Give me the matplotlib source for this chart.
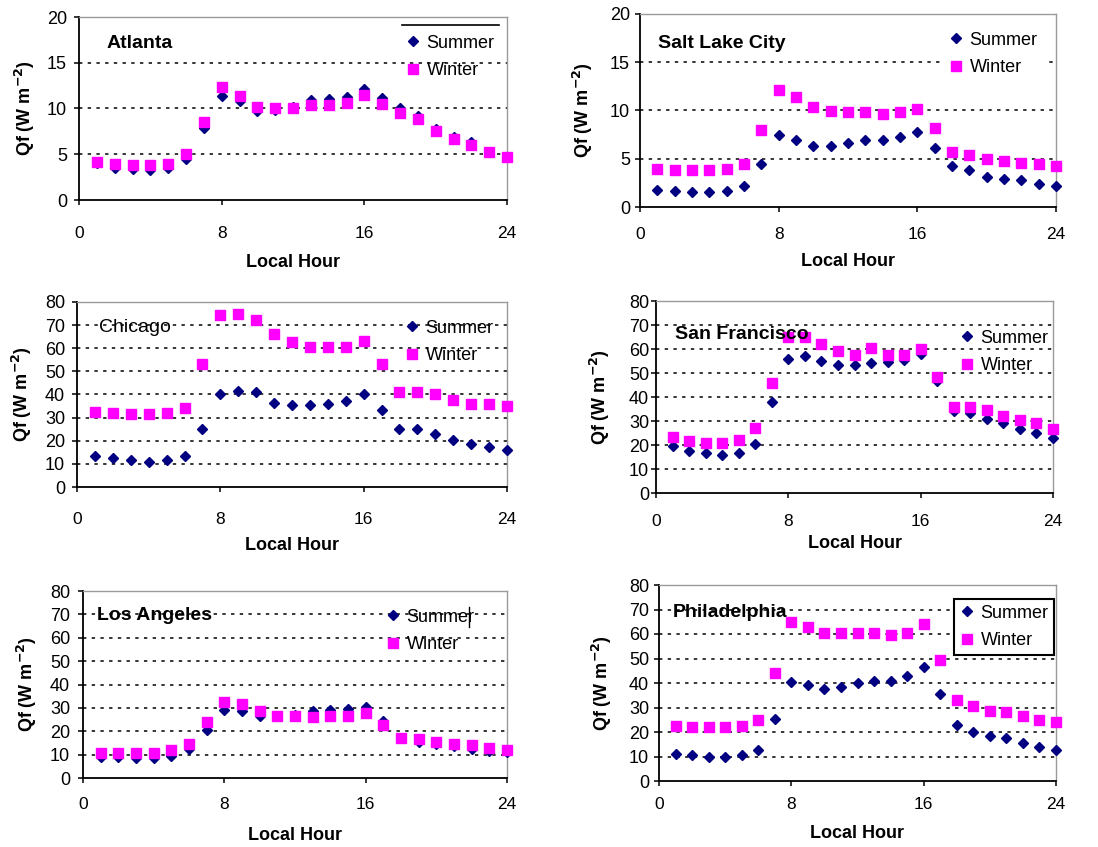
import matplotlib
matplotlib.use('Agg')
import matplotlib.pyplot as plt
from matplotlib.lines import Line2D

plt.rcParams['font.family'] = ['Liberation Sans', 'DejaVu Sans']

W, H = 1098, 847

hours = list(range(1, 25))

atlanta_summer = [4.0, 3.5, 3.4, 3.3, 3.5, 4.5, 7.9, 11.4, 10.8, 9.7, 9.8, 10.2,
                  10.9, 11.0, 11.3, 12.1, 11.2, 10.1, 9.2, 7.8, 6.9, 6.3, 5.3, 4.7]
atlanta_winter = [4.2, 3.9, 3.8, 3.8, 3.9, 5.0, 8.5, 12.3, 11.4, 10.2, 10.0, 10.1,
                  10.4, 10.4, 10.6, 11.5, 10.5, 9.5, 8.8, 7.5, 6.7, 6.0, 5.3, 4.7]

slc_summer = [1.8, 1.7, 1.6, 1.6, 1.7, 2.2, 4.5, 7.5, 6.9, 6.3, 6.3, 6.6,
              6.9, 6.9, 7.3, 7.8, 6.1, 4.2, 3.8, 3.1, 2.9, 2.8, 2.4, 2.2]
slc_winter = [3.9, 3.8, 3.8, 3.8, 3.9, 4.5, 8.0, 12.1, 11.4, 10.4, 9.9, 9.8,
              9.8, 9.6, 9.8, 10.2, 8.2, 5.7, 5.4, 5.0, 4.8, 4.6, 4.5, 4.3]

chicago_summer = [13.5, 12.5, 11.5, 11.0, 11.5, 13.5, 25.0, 40.0, 41.5, 41.0, 36.5, 35.5,
                  35.5, 36.0, 37.0, 40.0, 33.5, 25.0, 25.0, 23.0, 20.5, 18.5, 17.5, 16.0]
chicago_winter = [32.5, 32.0, 31.5, 31.5, 32.0, 34.0, 53.0, 74.5, 75.0, 72.0, 66.0, 62.5,
                  60.5, 60.5, 60.5, 63.0, 53.0, 41.0, 41.0, 40.0, 37.5, 36.0, 36.0, 35.0]

sf_summer = [19.5, 17.5, 16.5, 16.0, 16.5, 20.5, 38.0, 56.0, 57.0, 55.0, 53.5, 53.5,
             54.0, 54.5, 55.5, 58.0, 46.5, 34.0, 33.5, 31.0, 29.0, 26.5, 25.0, 23.0]
sf_winter = [23.5, 21.5, 21.0, 21.0, 22.0, 27.0, 46.0, 65.0, 65.0, 62.0, 59.0, 57.5,
             60.5, 57.5, 57.5, 60.0, 48.5, 36.0, 36.0, 34.5, 32.0, 30.5, 29.0, 26.5]

la_summer = [9.0, 9.0, 8.5, 8.5, 9.5, 12.5, 20.5, 29.0, 28.5, 26.5, 26.5, 27.0,
             28.5, 29.0, 29.5, 30.5, 24.5, 17.0, 15.5, 14.5, 13.5, 12.5, 11.5, 11.0]
la_winter = [10.5, 10.5, 10.5, 10.5, 12.0, 14.5, 24.0, 32.5, 31.5, 28.5, 26.5, 26.5,
             26.0, 26.5, 26.5, 28.0, 22.5, 17.0, 16.5, 15.5, 14.5, 14.0, 13.0, 12.0]

phl_summer = [11.0, 10.5, 10.0, 10.0, 10.5, 12.5, 25.5, 40.5, 39.0, 37.5, 38.5, 40.0,
              41.0, 41.0, 43.0, 46.5, 35.5, 23.0, 20.0, 18.5, 17.5, 15.5, 14.0, 12.5]
phl_winter = [22.5, 22.0, 22.0, 22.0, 22.5, 25.0, 44.0, 65.0, 63.0, 60.5, 60.5, 60.5,
              60.5, 59.5, 60.5, 64.0, 49.5, 33.0, 30.5, 28.5, 28.0, 26.5, 25.0, 24.0]

xticks = [0, 8, 16, 24]
series_labels = ['Summer', 'Winter']

FS_PX = 13 * 100 / 72  # legend font size in pixels


def fx(x):
    return x / W


def fy(y):
    return 1 - y / H


fig = plt.figure(figsize=(W / 100, H / 100), dpi=100)


def panel(box, ymax, ystep, title, summer, winter, title_xy, title_bold,
          xtick_y, xlabel_y, ylabel_x, ytick_gap, leg_x, leg_y, leg_style):
    x0, y0, x1, y1 = box
    ax = fig.add_axes([fx(x0), fy(y1), (x1 - x0) / W, (y1 - y0) / H])
    ax.set_xlim(0, 24)
    ax.set_ylim(0, ymax)
    ax.set_xticks(xticks)
    ax.set_yticks(range(0, ymax + 1, ystep))

    # dotted gridlines between the bottom and top of the axis
    for v in range(ystep, ymax, ystep):
        ax.axhline(v, color='black', lw=1.1, ls=(0, (2.2, 3.5)), zorder=1)

    ax.plot(hours, summer, ls='none', marker='D', ms=5.3, color='#000080',
            label=series_labels[0], zorder=3, clip_on=False)
    ax.plot(hours, winter, ls='none', marker='s', ms=7.6, color='#ff00ff',
            label=series_labels[1], zorder=4, clip_on=False)

    for s in ['left', 'bottom']:
        ax.spines[s].set_color('black')
        ax.spines[s].set_linewidth(1.3)
    for s in ['top', 'right']:
        ax.spines[s].set_color('#9a9a9a')
        ax.spines[s].set_linewidth(1.0)

    tick_len = 3.6
    ax.tick_params(axis='x', direction='out', length=tick_len, width=1.1,
                   labelsize=12.5,
                   pad=max((xtick_y - y1 - 5 - 6) * 0.72, 1))
    ax.tick_params(axis='y', direction='out', length=tick_len, width=1.1,
                   labelsize=13, pad=max((ytick_gap - 5) * 0.72, 1))

    ax.set_xlabel('Local Hour', fontsize=13, fontweight='bold', va='center')
    ax.xaxis.set_label_coords(0.5, (y1 - xlabel_y) / (y1 - y0))
    ax.set_ylabel('Qf (W m$^{\\mathbf{-2}}$)', fontsize=13, fontweight='bold',
                  va='center')
    ax.yaxis.set_label_coords((ylabel_x - x0) / (x1 - x0), 0.5)

    ax.text(fx(title_xy[0]), fy(title_xy[1]), title, transform=fig.transFigure,
            fontsize=14, fontweight='bold' if title_bold else 'normal',
            ha='left', va='center', zorder=6)

    bpad = 0.3 if leg_style == 'boxed' else 0.4
    leg = ax.legend(loc='center left',
                    bbox_to_anchor=(fx(leg_x - (bpad + 0.4) * FS_PX), fy(leg_y)),
                    bbox_transform=fig.transFigure, fontsize=13,
                    handlelength=0.8, handletextpad=0.35, labelspacing=0.6,
                    borderpad=bpad, borderaxespad=0, fancybox=False)
    leg.set_zorder(7)
    frame = leg.get_frame()
    if leg_style == 'boxed':
        frame.set_edgecolor('black')
        frame.set_linewidth(1.5)
        frame.set_facecolor('white')
        frame.set_alpha(1)
    elif leg_style == 'white':
        frame.set_edgecolor('none')
        frame.set_facecolor('white')
        frame.set_alpha(1)
    else:
        leg.set_frame_on(False)
    return ax


panel((79, 17, 507, 200), 20, 5, 'Atlanta', atlanta_summer, atlanta_winter,
      (107, 43), True, 232, 262, 25, 12, 413, 57, 'none')
panel((640, 14, 1056, 207), 20, 5, 'Salt Lake City', slc_summer, slc_winter,
      (658, 43), True, 233, 262, 583, 10, 956, 54, 'white')
panel((77, 302, 507, 487), 80, 10, 'Chicago', chicago_summer, chicago_winter,
      (99, 328), False, 518, 545, 22, 12, 412, 342, 'none')
panel((656, 301, 1053, 493), 80, 10, 'San Francisco', sf_summer, sf_winter,
      (675, 334), True, 520, 543, 600, 7, 967, 352, 'none')
panel((83, 591, 507, 778), 80, 10, 'Los Angeles', la_summer, la_winter,
      (97, 615), True, 803, 835, 27, 13, 393, 631, 'none')
panel((659, 585, 1056, 781), 80, 10, 'Philadelphia', phl_summer, phl_winter,
      (673, 612), True, 803, 833, 602, 10, 967, 627, 'boxed')

# leftover line above the Atlanta legend and text cursor in the Los Angeles legend
fig.add_artist(Line2D([fx(402), fx(499)], [fy(25), fy(25)], color='black', lw=1.2))
fig.add_artist(Line2D([fx(469), fx(469)], [fy(607), fy(627)], color='black', lw=1.0))

fig.savefig('out.png', dpi=100, facecolor='white')
